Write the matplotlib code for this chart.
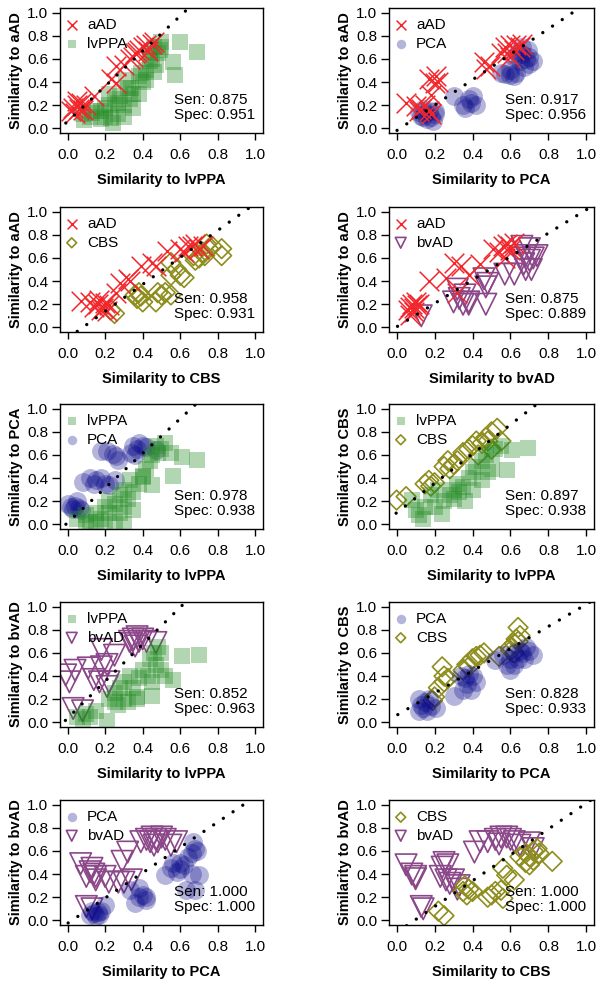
import numpy as np
import matplotlib.pyplot as plt

plt.rcParams['font.family'] = ['Liberation Sans', 'DejaVu Sans']

# ---- data ----
# panel 1: aAD vs lvPPA  (x = similarity to lvPPA, y = similarity to aAD)
p1_aAD_x = [0.02, 0.03, 0.05, 0.06, 0.07, 0.08, 0.04, 0.10, 0.05, 0.14, 0.23, 0.26, 0.26,
            0.30, 0.33, 0.36, 0.38, 0.40, 0.42, 0.45, 0.35, 0.37, 0.43, 0.46]
p1_aAD_y = [0.15, 0.18, 0.20, 0.17, 0.22, 0.16, 0.13, 0.20, 0.24, 0.28, 0.43, 0.54, 0.39,
            0.55, 0.60, 0.65, 0.68, 0.70, 0.72, 0.73, 0.62, 0.66, 0.67, 0.75]
p1_lvPPA_x = [0.08, 0.12, 0.15, 0.18, 0.20, 0.22, 0.25, 0.22, 0.27, 0.23, 0.30, 0.28, 0.32,
              0.35, 0.38, 0.40, 0.42, 0.45, 0.48, 0.50, 0.46, 0.44, 0.50, 0.47, 0.60, 0.69,
              0.56, 0.57, 0.39, 0.46, 0.33, 0.35, 0.30, 0.34, 0.09, 0.13, 0.18, 0.20, 0.24,
              0.38, 0.42, 0.27, 0.31, 0.49, 0.44]
p1_lvPPA_y = [0.12, 0.10, 0.15, 0.08, 0.18, 0.20, 0.25, 0.30, 0.12, 0.09, 0.20, 0.28, 0.35,
              0.30, 0.45, 0.40, 0.50, 0.60, 0.65, 0.70, 0.70, 0.65, 0.75, 0.55, 0.75, 0.66,
              0.57, 0.46, 0.48, 0.49, 0.25, 0.18, 0.10, 0.35, 0.07, 0.13, 0.15, 0.10, 0.05,
              0.30, 0.42, 0.22, 0.42, 0.68, 0.58]

# panel 2: aAD vs PCA
p2_aAD_x = [0.05, 0.10, 0.12, 0.13, 0.15, 0.17, 0.18, 0.17, 0.20, 0.21, 0.22, 0.18, 0.46,
            0.49, 0.47, 0.55, 0.57, 0.60, 0.62, 0.63, 0.65, 0.66, 0.58, 0.60]
p2_aAD_y = [0.22, 0.19, 0.15, 0.17, 0.20, 0.15, 0.12, 0.43, 0.39, 0.45, 0.40, 0.29, 0.57,
            0.54, 0.51, 0.65, 0.70, 0.72, 0.68, 0.72, 0.70, 0.73, 0.65, 0.62]
p2_PCA_x = [0.12, 0.13, 0.14, 0.15, 0.16, 0.18, 0.19, 0.20, 0.14, 0.17, 0.20, 0.30, 0.35,
            0.38, 0.40, 0.42, 0.39, 0.36, 0.55, 0.57, 0.60, 0.62, 0.60, 0.63, 0.62, 0.64,
            0.66, 0.68, 0.70, 0.72, 0.66, 0.69, 0.65, 0.67, 0.70]
p2_PCA_y = [0.14, 0.11, 0.10, 0.13, 0.08, 0.10, 0.06, 0.12, 0.17, 0.15, 0.15, 0.28, 0.20,
            0.25, 0.28, 0.20, 0.22, 0.18, 0.48, 0.47, 0.46, 0.45, 0.50, 0.48, 0.62, 0.66,
            0.64, 0.60, 0.56, 0.58, 0.70, 0.68, 0.58, 0.53, 0.62]

# panel 3: aAD vs CBS
p3_aAD_x = [0.07, 0.12, 0.14, 0.16, 0.18, 0.19, 0.20, 0.21, 0.22, 0.17, 0.26, 0.28, 0.32,
            0.33, 0.39, 0.45, 0.53, 0.47, 0.62, 0.64, 0.66, 0.68, 0.70, 0.72, 0.60]
p3_aAD_y = [0.23, 0.22, 0.18, 0.20, 0.15, 0.17, 0.21, 0.14, 0.19, 0.24, 0.30, 0.38, 0.42,
            0.40, 0.53, 0.56, 0.66, 0.53, 0.65, 0.70, 0.70, 0.72, 0.68, 0.70, 0.68]
p3_CBS_x = [0.25, 0.23, 0.36, 0.37, 0.38, 0.39, 0.40, 0.47, 0.48, 0.50, 0.52, 0.55, 0.58,
            0.55, 0.60, 0.62, 0.55, 0.67, 0.70, 0.72, 0.75, 0.73, 0.68, 0.82, 0.82, 0.77,
            0.74]
p3_CBS_y = [0.12, 0.15, 0.28, 0.25, 0.30, 0.27, 0.22, 0.22, 0.30, 0.28, 0.30, 0.28, 0.50,
            0.45, 0.45, 0.43, 0.56, 0.62, 0.60, 0.65, 0.68, 0.62, 0.58, 0.68, 0.62, 0.70,
            0.72]

# panel 4: aAD vs bvAD
p4_aAD_x = [0.06, 0.07, 0.08, 0.09, 0.10, 0.11, 0.12, 0.09, 0.07, 0.17, 0.26, 0.30, 0.34,
            0.38, 0.44, 0.32, 0.51, 0.54, 0.56, 0.58, 0.60, 0.62, 0.57, 0.60]
p4_aAD_y = [0.15, 0.18, 0.20, 0.17, 0.22, 0.19, 0.20, 0.13, 0.11, 0.40, 0.43, 0.56, 0.53,
            0.45, 0.55, 0.30, 0.68, 0.65, 0.70, 0.72, 0.70, 0.73, 0.60, 0.67]
p4_bvAD_x = [0.13, 0.32, 0.33, 0.35, 0.38, 0.36, 0.30, 0.38, 0.46, 0.47, 0.47, 0.48, 0.57,
             0.62, 0.65, 0.67, 0.68, 0.70, 0.72, 0.68, 0.71, 0.70, 0.66, 0.74]
p4_bvAD_y = [0.10, 0.33, 0.25, 0.20, 0.22, 0.28, 0.22, 0.20, 0.42, 0.35, 0.20, 0.38, 0.46,
             0.46, 0.60, 0.55, 0.62, 0.58, 0.60, 0.50, 0.50, 0.68, 0.70, 0.62]

# panel 5: lvPPA vs PCA
p5_lvPPA_x = [0.05, 0.10, 0.12, 0.10, 0.15, 0.20, 0.25, 0.30, 0.15, 0.20, 0.22, 0.25, 0.28,
              0.30, 0.32, 0.35, 0.33, 0.38, 0.40, 0.42, 0.44, 0.45, 0.48, 0.50, 0.47, 0.52,
              0.55, 0.61, 0.69, 0.56, 0.45, 0.40, 0.18, 0.22, 0.30, 0.35, 0.28]
p5_lvPPA_y = [0.05, 0.08, 0.02, 0.00, 0.02, 0.00, 0.02, 0.00, 0.10, 0.15, 0.20, 0.18, 0.25,
              0.30, 0.22, 0.28, 0.38, 0.35, 0.42, 0.48, 0.55, 0.60, 0.62, 0.65, 0.68, 0.70,
              0.62, 0.58, 0.56, 0.42, 0.34, 0.41, 0.05, 0.10, 0.15, 0.12, 0.10]
p5_PCA_x = [0.00, 0.02, 0.04, 0.06, 0.07, 0.05, 0.03, 0.08, 0.12, 0.15, 0.18, 0.20, 0.22,
            0.25, 0.14, 0.18, 0.26, 0.24, 0.27, 0.21, 0.34, 0.35, 0.37, 0.38, 0.40, 0.36,
            0.42, 0.47]
p5_PCA_y = [0.18, 0.15, 0.16, 0.14, 0.12, 0.20, 0.13, 0.37, 0.40, 0.38, 0.40, 0.35, 0.34,
            0.38, 0.35, 0.63, 0.59, 0.61, 0.56, 0.63, 0.62, 0.68, 0.65, 0.70, 0.68, 0.60,
            0.67, 0.64]

# panel 6: lvPPA vs CBS
p6_lvPPA_x = [0.08, 0.10, 0.12, 0.14, 0.20, 0.25, 0.28, 0.30, 0.32, 0.35, 0.38, 0.40, 0.42,
              0.45, 0.47, 0.50, 0.52, 0.55, 0.48, 0.50, 0.58, 0.61, 0.69, 0.24, 0.30, 0.22,
              0.18, 0.33, 0.40, 0.45, 0.15, 0.36]
p6_lvPPA_y = [0.21, 0.12, 0.08, 0.05, 0.15, 0.20, 0.25, 0.30, 0.35, 0.32, 0.40, 0.45, 0.50,
              0.55, 0.60, 0.62, 0.65, 0.68, 0.45, 0.48, 0.47, 0.64, 0.66, 0.09, 0.22, 0.30,
              0.25, 0.28, 0.30, 0.38, 0.15, 0.20]
p6_CBS_x = [0.00, 0.05, 0.15, 0.17, 0.18, 0.20, 0.25, 0.27, 0.28, 0.30, 0.32, 0.35, 0.38,
            0.40, 0.42, 0.45, 0.47, 0.50, 0.53, 0.48, 0.50, 0.43, 0.55]
p6_CBS_y = [0.21, 0.24, 0.35, 0.38, 0.33, 0.36, 0.50, 0.55, 0.48, 0.52, 0.55, 0.62, 0.65,
            0.68, 0.72, 0.70, 0.75, 0.80, 0.83, 0.72, 0.65, 0.60, 0.72]

# panel 7: lvPPA vs bvAD
p7_lvPPA_x = [0.05, 0.10, 0.12, 0.15, 0.08, 0.21, 0.22, 0.25, 0.28, 0.27, 0.30, 0.32, 0.30,
              0.33, 0.35, 0.37, 0.38, 0.40, 0.43, 0.45, 0.44, 0.46, 0.48, 0.50, 0.47, 0.50,
              0.52, 0.56, 0.61, 0.70, 0.45, 0.37, 0.25]
p7_lvPPA_y = [0.05, 0.07, 0.05, 0.10, 0.03, 0.01, 0.20, 0.25, 0.30, 0.15, 0.20, 0.18, 0.35,
              0.40, 0.30, 0.22, 0.38, 0.45, 0.40, 0.35, 0.55, 0.60, 0.65, 0.60, 0.50, 0.45,
              0.40, 0.37, 0.57, 0.58, 0.23, 0.20, 0.18]
p7_bvAD_x = [-0.01, 0.01, 0.04, 0.11, 0.14, 0.17, 0.18, 0.21, 0.18, 0.25, 0.22, 0.21, 0.03,
             0.08, 0.33, 0.35, 0.37, 0.38, 0.40, 0.36, 0.34, 0.42, 0.47]
p7_bvAD_y = [0.41, 0.35, 0.45, 0.47, 0.37, 0.35, 0.48, 0.50, 0.63, 0.58, 0.35, 0.31, 0.12,
             0.10, 0.70, 0.72, 0.74, 0.70, 0.72, 0.66, 0.68, 0.70, 0.69]

# panel 8: PCA vs CBS
p8_PCA_x = [0.12, 0.13, 0.14, 0.15, 0.16, 0.17, 0.18, 0.21, 0.12, 0.30, 0.35, 0.36, 0.38,
            0.40, 0.42, 0.37, 0.39, 0.34, 0.52, 0.56, 0.58, 0.60, 0.62, 0.60, 0.64, 0.66,
            0.68, 0.70, 0.72, 0.65, 0.67, 0.62]
p8_PCA_y = [0.20, 0.15, 0.12, 0.18, 0.10, 0.20, 0.14, 0.12, 0.10, 0.23, 0.28, 0.38, 0.42,
            0.40, 0.35, 0.33, 0.28, 0.40, 0.54, 0.58, 0.50, 0.55, 0.50, 0.45, 0.55, 0.60,
            0.65, 0.62, 0.58, 0.62, 0.55, 0.60]
p8_CBS_x = [0.19, 0.20, 0.22, 0.25, 0.24, 0.25, 0.27, 0.35, 0.37, 0.40, 0.42, 0.44, 0.46,
            0.38, 0.54, 0.60, 0.62, 0.64, 0.63, 0.64, 0.65, 0.60, 0.62]
p8_CBS_y = [0.19, 0.22, 0.30, 0.35, 0.48, 0.40, 0.38, 0.45, 0.50, 0.55, 0.57, 0.58, 0.60,
            0.48, 0.57, 0.65, 0.68, 0.70, 0.72, 0.82, 0.75, 0.62, 0.60]

# panel 9: PCA vs bvAD
p9_PCA_x = [0.12, 0.13, 0.14, 0.15, 0.16, 0.17, 0.18, 0.20, 0.33, 0.38, 0.40, 0.42, 0.36,
            0.38, 0.42, 0.52, 0.55, 0.56, 0.58, 0.60, 0.62, 0.64, 0.66, 0.68, 0.70, 0.66,
            0.63, 0.68, 0.67, 0.60, 0.69]
p9_PCA_y = [0.05, 0.08, 0.06, 0.04, 0.07, 0.05, 0.08, 0.13, 0.26, 0.20, 0.22, 0.18, 0.15,
            0.28, 0.20, 0.39, 0.45, 0.50, 0.42, 0.44, 0.48, 0.55, 0.58, 0.62, 0.39, 0.40,
            0.26, 0.26, 0.68, 0.50, 0.60]
p9_bvAD_x = [0.10, 0.13, 0.07, 0.12, 0.14, 0.15, 0.10, 0.13, 0.15, 0.20, 0.22, 0.27, 0.30,
             0.34, 0.29, 0.32, 0.39, 0.42, 0.45, 0.47, 0.48, 0.50, 0.52, 0.55, 0.58, 0.44,
             0.46]
p9_bvAD_y = [0.12, 0.10, 0.49, 0.42, 0.40, 0.38, 0.38, 0.45, 0.35, 0.38, 0.33, 0.33, 0.33,
             0.35, 0.51, 0.59, 0.68, 0.70, 0.72, 0.70, 0.68, 0.72, 0.70, 0.65, 0.68, 0.68,
             0.65]

# panel 10: CBS vs bvAD
p10_CBS_x = [0.25, 0.22, 0.35, 0.37, 0.38, 0.40, 0.36, 0.48, 0.50, 0.52, 0.55, 0.56, 0.62,
             0.58, 0.56, 0.65, 0.68, 0.70, 0.72, 0.74, 0.70, 0.75, 0.82, 0.68, 0.72]
p10_CBS_y = [0.04, 0.08, 0.25, 0.22, 0.27, 0.25, 0.30, 0.20, 0.22, 0.25, 0.26, 0.19, 0.35,
             0.39, 0.45, 0.55, 0.50, 0.55, 0.60, 0.62, 0.48, 0.58, 0.51, 0.58, 0.52]
p10_bvAD_x = [0.05, 0.08, 0.10, 0.10, 0.14, 0.13, 0.24, 0.25, 0.27, 0.23, 0.26, 0.28, 0.30,
              0.33, 0.32, 0.41, 0.44, 0.48, 0.52, 0.55, 0.58, 0.60, 0.62, 0.54, 0.65, 0.72,
              0.70]
p10_bvAD_y = [0.48, 0.40, 0.38, 0.36, 0.10, 0.12, 0.46, 0.50, 0.48, 0.38, 0.35, 0.32, 0.35,
              0.30, 0.27, 0.59, 0.68, 0.68, 0.70, 0.72, 0.72, 0.70, 0.68, 0.66, 0.65, 0.62,
              0.67]

# dotted decision lines (intercept, slope), per panel
line_intercept = [0.06, -0.02, -0.095, 0.004, 0.014, 0.10, 0.035, 0.061, -0.026, -0.105]
line_slope = [1.52, 1.10, 1.167, 1.013, 1.50, 1.27, 1.60, 0.96, 1.095, 1.118]

sens = ["0.875", "0.917", "0.958", "0.875", "0.978", "0.897", "0.852", "0.828", "1.000", "1.000"]
specs = ["0.951", "0.956", "0.931", "0.889", "0.938", "0.938", "0.963", "0.933", "1.000", "1.000"]

# (y group, x group) per panel
panels = [
    ("aAD", "lvPPA", p1_aAD_x, p1_aAD_y, p1_lvPPA_x, p1_lvPPA_y),
    ("aAD", "PCA", p2_aAD_x, p2_aAD_y, p2_PCA_x, p2_PCA_y),
    ("aAD", "CBS", p3_aAD_x, p3_aAD_y, p3_CBS_x, p3_CBS_y),
    ("aAD", "bvAD", p4_aAD_x, p4_aAD_y, p4_bvAD_x, p4_bvAD_y),
    ("PCA", "lvPPA", p5_lvPPA_x, p5_lvPPA_y, p5_PCA_x, p5_PCA_y),
    ("CBS", "lvPPA", p6_lvPPA_x, p6_lvPPA_y, p6_CBS_x, p6_CBS_y),
    ("bvAD", "lvPPA", p7_lvPPA_x, p7_lvPPA_y, p7_bvAD_x, p7_bvAD_y),
    ("CBS", "PCA", p8_PCA_x, p8_PCA_y, p8_CBS_x, p8_CBS_y),
    ("bvAD", "PCA", p9_PCA_x, p9_PCA_y, p9_bvAD_x, p9_bvAD_y),
    ("bvAD", "CBS", p10_CBS_x, p10_CBS_y, p10_bvAD_x, p10_bvAD_y),
]
# legend order for each panel
legend_groups = [("aAD", "lvPPA"), ("aAD", "PCA"), ("aAD", "CBS"), ("aAD", "bvAD"),
                 ("lvPPA", "PCA"), ("lvPPA", "CBS"), ("lvPPA", "bvAD"), ("PCA", "CBS"),
                 ("PCA", "bvAD"), ("CBS", "bvAD")]

# marker styles per group
style = {
    "aAD":   dict(marker='x', s=200, c='#F2262B', linewidths=1.1),
    "lvPPA": dict(marker='s', s=130, c='#228B22', alpha=0.35, linewidths=0),
    "PCA":   dict(marker='o', s=185, c='#0A0A8C', alpha=0.3, linewidths=0),
    "CBS":   dict(marker='D', s=100, facecolors='none', edgecolors='#8E8E1E', linewidths=1.2),
    "bvAD":  dict(marker='v', s=240, facecolors='none', edgecolors='#8B4789', linewidths=1.2),
}
legend_scale = 0.5

fig = plt.figure(figsize=(6.04, 9.86), dpi=100)
W, H = 604, 986
col_left = [60, 389]
col_width = [203, 205]
row_top = [8, 207, 404, 602, 800]
box_h = 125

for i, (ylab, xlab, ax1, ay1, ax2, ay2) in enumerate(panels):
    r, c = divmod(i, 2)
    ax = fig.add_axes([col_left[c] / W, 1 - (row_top[r] + box_h) / H, col_width[c] / W, box_h / H])
    g1, g2 = legend_groups[i]
    ax.scatter(ax2, ay2, label=g2, **style[g2])
    ax.scatter(ax1, ay1, label=g1, **style[g1])

    xs = np.linspace(-0.1, 1.1, 50)
    ax.plot(xs, line_intercept[i] + line_slope[i] * xs, color='black', lw=2.4,
            linestyle=(0, (0.01, 3.5)), dash_capstyle='round')

    ax.set_xlim(-0.04, 1.04)
    ax.set_ylim(-0.04, 1.04)
    ticks = np.arange(0, 1.01, 0.2)
    ax.set_xticks(ticks)
    ax.set_yticks(ticks)
    ax.set_xticklabels([f"{t:.1f}" for t in ticks])
    ax.set_yticklabels([f"{t:.1f}" for t in ticks])
    ax.tick_params(labelsize=11, width=1)
    ax.tick_params(axis='x', length=5, pad=5.5)
    ax.tick_params(axis='y', length=5.5, pad=3)
    for sp in ax.spines.values():
        sp.set_linewidth(1.0)
    ax.set_xlabel(f"Similarity to {xlab}", fontsize=10.5, fontweight='bold', labelpad=8)
    ax.set_ylabel(f"Similarity to {ylab}", fontsize=10.5, fontweight='bold', labelpad=3)

    h, l = ax.get_legend_handles_labels()
    order = [l.index(g1), l.index(g2)]
    ax.legend([h[k] for k in order], [l[k] for k in order], loc='upper left', frameon=False,
              bbox_to_anchor=(0.005, 0.955), borderaxespad=0, borderpad=0.3,
              fontsize=11, markerscale=legend_scale, handlelength=0.8, handletextpad=0.6,
              labelspacing=0.3)

    ax.text(1.0, 0.18, f"Sen: {sens[i]}\nSpec: {specs[i]}", ha='right', va='center',
            multialignment='left', fontsize=11, linespacing=1.15)

fig.savefig("out.png", dpi=100)
